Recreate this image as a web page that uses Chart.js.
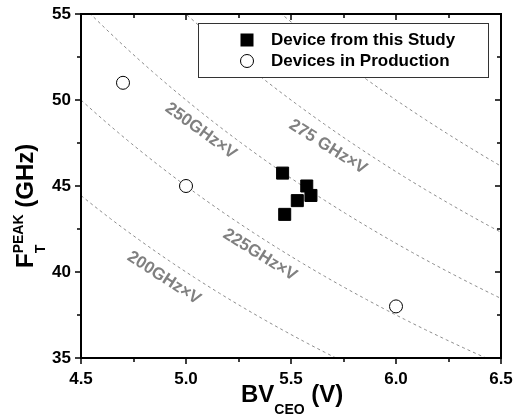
<!DOCTYPE html>
<html>
<head>
<meta charset="utf-8">
<script src="https://cdn.jsdelivr.net/npm/chart.js@4.4.0/dist/chart.umd.min.js"></script>
<style>
  body { margin: 0; background: #fff; }
  canvas { display: block; }
</style>
</head>
<body>
<canvas id="grafico" width="516" height="415"></canvas>
<script>
// Dati
const studyBV = [5.46, 5.575, 5.595, 5.53, 5.47];
const studyFt = [45.75, 45.0, 44.45, 44.15, 43.35];
const prodBV = [4.7, 5.0, 6.0];
const prodFt = [51.0, 45.0, 38.0];
const productsGHzV = [200, 225, 250, 275, 300];
const productLabels = ["200GHz×V", "225GHz×V", "250GHz×V", "275 GHz×V"];
const seriesNames = ["Device from this Study", "Devices in Production"];
const xTicks = [4.5, 5.0, 5.5, 6.0, 6.5];
const yTicks = [35, 40, 45, 50, 55];

// posizione delle scritte sulle curve (coordinate dati) e rotazione
const labelPos = [
  { x: 4.895, y: 39.65, rot: 33 },
  { x: 5.352, y: 40.99, rot: 32 },
  { x: 5.071, y: 48.2, rot: 36 },
  { x: 5.676, y: 47.27, rot: 32 },
];

const FONT = "'Liberation Sans', Arial, sans-serif";

// curve F = C / V
const xsCurve = [];
for (let v = 4.5; v <= 6.5001; v += 0.02) xsCurve.push(v);

const curveSets = productsGHzV.map((c) => ({
  label: c + " GHz×V",
  data: xsCurve.map((v) => ({ x: v, y: c / v })),
  showLine: true,
  borderColor: "#8c8c8c",
  borderWidth: 1,
  borderDash: [3, 3],
  pointRadius: 0,
  fill: false,
}));

const datasets = [
  {
    label: seriesNames[0],
    data: studyBV.map((v, i) => ({ x: v, y: studyFt[i] })),
    pointStyle: "rect",
    pointRadius: 8.5,
    backgroundColor: "#000",
    borderColor: "#000",
    borderWidth: 1,
  },
  {
    label: seriesNames[1],
    data: prodBV.map((v, i) => ({ x: v, y: prodFt[i] })),
    pointStyle: "circle",
    pointRadius: 6.5,
    backgroundColor: "#fff",
    borderColor: "#000",
    borderWidth: 1,
  },
  ...curveSets,
];

const isMajor = (v, step) => Math.abs(v / step - Math.round(v / step)) < 1e-6;

// cornice, tacche, scritte, legenda, titoli assi
const decorPlugin = {
  id: "decor",
  afterDatasetsDraw(chart) {
    const ctx = chart.ctx;
    const a = chart.chartArea;
    const sx = chart.scales.x;
    const sy = chart.scales.y;
    ctx.save();

    // scritte sulle curve
    ctx.fillStyle = "#808080";
    ctx.font = "bold 17px " + FONT;
    ctx.textAlign = "center";
    ctx.textBaseline = "middle";
    productLabels.forEach((t, i) => {
      const p = labelPos[i];
      ctx.save();
      ctx.translate(sx.getPixelForValue(p.x), sy.getPixelForValue(p.y));
      ctx.rotate((p.rot * Math.PI) / 180);
      ctx.fillText(t, 0, 0);
      ctx.restore();
    });

    // cornice
    ctx.strokeStyle = "#000";
    ctx.lineWidth = 2;
    ctx.strokeRect(a.left, a.top, a.right - a.left, a.bottom - a.top);

    // tacche
    ctx.lineWidth = 1.5;
    ctx.beginPath();
    sx.ticks.forEach((t) => {
      const px = Math.round(sx.getPixelForValue(t.value));
      const len = isMajor(t.value, 0.5) ? 6 : 4;
      ctx.moveTo(px, a.bottom);
      ctx.lineTo(px, a.bottom + len);
      ctx.moveTo(px, a.top);
      ctx.lineTo(px, a.top + len);
    });
    sy.ticks.forEach((t) => {
      const py = Math.round(sy.getPixelForValue(t.value));
      const len = isMajor(t.value, 5) ? 6 : 4;
      ctx.moveTo(a.left, py);
      ctx.lineTo(a.left - len, py);
      ctx.moveTo(a.right, py);
      ctx.lineTo(a.right - len, py);
    });
    ctx.stroke();

    // legenda
    const lx = 198, ly = 23, lw = 290, lh = 54;
    ctx.fillStyle = "#fff";
    ctx.fillRect(lx, ly, lw, lh);
    ctx.strokeStyle = "#333";
    ctx.lineWidth = 1;
    ctx.strokeRect(lx + 0.5, ly + 0.5, lw, lh);
    ctx.fillStyle = "#000";
    ctx.fillRect(247 - 6.5, 40 - 6.5, 13, 13);
    ctx.beginPath();
    ctx.arc(247, 61, 6.5, 0, Math.PI * 2);
    ctx.fillStyle = "#fff";
    ctx.fill();
    ctx.strokeStyle = "#000";
    ctx.stroke();
    ctx.fillStyle = "#000";
    ctx.font = "bold 17px " + FONT;
    ctx.textAlign = "left";
    ctx.textBaseline = "middle";
    ctx.fillText(seriesNames[0], 271, 40);
    ctx.fillText(seriesNames[1], 271, 61);

    // titolo asse x: BV_CEO (V)
    ctx.textBaseline = "alphabetic";
    ctx.font = "bold 24px " + FONT;
    let x0 = 241;
    ctx.fillText("BV", x0, 402);
    x0 += ctx.measureText("BV").width;
    ctx.font = "bold 14px " + FONT;
    ctx.fillText("CEO", x0, 414);
    x0 += ctx.measureText("CEO").width;
    ctx.font = "bold 24px " + FONT;
    ctx.fillText(" (V)", x0, 402);

    // titolo asse y: F_T^PEAK (GHz)
    ctx.save();
    ctx.translate(33, 268);
    ctx.rotate(-Math.PI / 2);
    ctx.font = "bold 24px " + FONT;
    ctx.fillText("F", 0, 0);
    let y0 = ctx.measureText("F").width;
    ctx.font = "bold 14px " + FONT;
    ctx.fillText("PEAK", y0, -10);
    ctx.fillText("T", y0, 12);
    y0 += ctx.measureText("PEAK").width;
    ctx.font = "bold 24px " + FONT;
    ctx.fillText(" (GHz)", y0, 0);
    ctx.restore();

    ctx.restore();
  },
};

const ctx = document.getElementById("grafico").getContext("2d");
new Chart(ctx, {
  type: "scatter",
  data: { datasets: datasets },
  options: {
    responsive: false,
    animation: false,
    layout: { autoPadding: false, padding: { top: 14, right: 15, left: 0, bottom: 0 } },
    plugins: {
      legend: { display: false },
      tooltip: { enabled: false },
    },
    scales: {
      x: {
        type: "linear",
        min: 4.5,
        max: 6.5,
        grid: { display: false, drawTicks: false },
        border: { display: false },
        ticks: {
          stepSize: 0.25,
          autoSkip: false,
          maxRotation: 0,
          padding: 11,
          color: "#000",
          font: { family: FONT, size: 17, weight: "bold" },
          callback: (v) => (xTicks.some((t) => Math.abs(t - v) < 1e-6) ? v.toFixed(1) : ""),
        },
        afterFit: (s) => {
          s.height = 57;
          s.paddingLeft = 0;
          s.paddingRight = 0;
        },
      },
      y: {
        type: "linear",
        min: 35,
        max: 55,
        grid: { display: false, drawTicks: false },
        border: { display: false },
        ticks: {
          stepSize: 2.5,
          autoSkip: false,
          padding: 10,
          color: "#000",
          font: { family: FONT, size: 17, weight: "bold" },
          callback: (v) => (yTicks.includes(v) ? v : ""),
        },
        afterFit: (s) => {
          s.width = 81;
          s.paddingTop = 0;
          s.paddingBottom = 0;
        },
      },
    },
  },
  plugins: [decorPlugin],
});
</script>
</body>
</html>
